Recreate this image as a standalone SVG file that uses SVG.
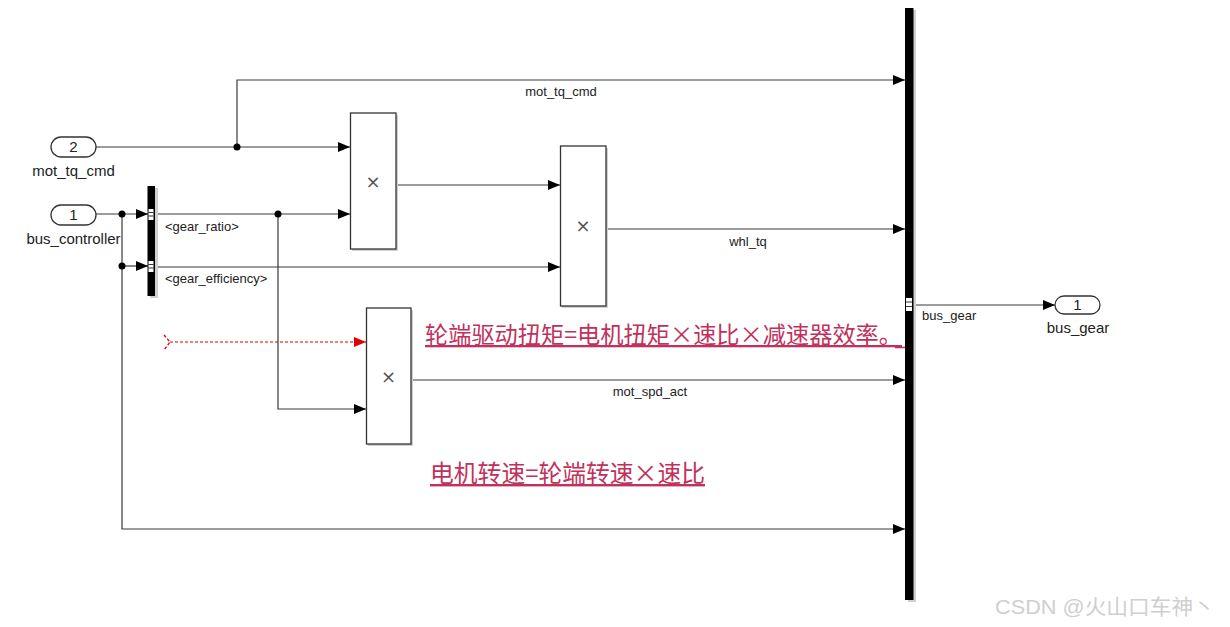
<svg xmlns="http://www.w3.org/2000/svg" width="1230" height="627" viewBox="0 0 1230 627">
<defs>
<marker id="arr" viewBox="0 0 12 10" refX="12" refY="5" markerWidth="12" markerHeight="10" markerUnits="userSpaceOnUse" orient="auto">
<path d="M0,0 L12,5 L0,10 Z" fill="#000"/>
</marker>
<marker id="arrRed" viewBox="0 0 12 10" refX="12" refY="5" markerWidth="12" markerHeight="10" markerUnits="userSpaceOnUse" orient="auto">
<path d="M0,0 L12,5 L0,10 Z" fill="#e00000"/>
</marker>
</defs>
<style>
.w{fill:none;stroke:#3a3a3a;stroke-width:1.2}
.blk{fill:#fff;stroke:#333;stroke-width:1.3}
.sh{fill:#d0d0d0}
.lbl{font-family:"Liberation Sans",Arial,sans-serif;font-size:13px;fill:#222}
.plbl{font-family:"Liberation Sans",Arial,sans-serif;font-size:15px;fill:#222;text-anchor:middle}
.num{font-family:"Liberation Sans",Arial,sans-serif;font-size:15px;fill:#222;text-anchor:middle}
.mul{font-family:"DejaVu Sans",sans-serif;font-size:18px;fill:#555;text-anchor:middle}
.note{font-family:"Noto Sans CJK SC","Noto Sans",sans-serif;fill:#c0315c;text-decoration:underline}
.dot{fill:#000}
</style>
<rect width="1230" height="627" fill="#fff"/>

<g id="connectors">
<polyline class="w" points="96,147 350,147" marker-end="url(#arr)"/>
<polyline class="w" points="237,147 237,80 905,80" marker-end="url(#arr)"/>
<polyline class="w" points="96,214 148,214" marker-end="url(#arr)"/>
<polyline class="w" points="122,214 122,529 905,529" marker-end="url(#arr)"/>
<polyline class="w" points="122,266 148,266" marker-end="url(#arr)"/>
<polyline class="w" points="155,214 350,214" marker-end="url(#arr)"/>
<polyline class="w" points="278,214 278,409 366,409" marker-end="url(#arr)"/>
<polyline class="w" points="155,267 560,267" marker-end="url(#arr)"/>
<polyline class="w" points="396,185 560,185" marker-end="url(#arr)"/>
<polyline class="w" points="606,229 905,229" marker-end="url(#arr)"/>
<polyline class="w" points="411,380 905,380" marker-end="url(#arr)"/>
<polyline class="w" points="913,305 1055,305" marker-end="url(#arr)"/>
<polyline fill="none" stroke="#e00000" stroke-width="1" stroke-dasharray="3,2" points="170,342 366,342" marker-end="url(#arrRed)"/>
<polyline fill="none" stroke="#e00000" stroke-width="1.3" stroke-dasharray="3,2" points="164,335 170,342 164,350"/>
<circle class="dot" cx="237" cy="147" r="3.5"/>
<circle class="dot" cx="122" cy="214" r="3.5"/>
<circle class="dot" cx="122" cy="266" r="3.5"/>
<circle class="dot" cx="278" cy="214" r="3.5"/>
<text class="lbl" x="561" y="96" text-anchor="middle">mot_tq_cmd</text>
<text class="lbl" x="165" y="231">&lt;gear_ratio&gt;</text>
<text class="lbl" x="165" y="283">&lt;gear_efficiency&gt;</text>
<text class="lbl" x="748" y="246" text-anchor="middle">whl_tq</text>
<text class="lbl" x="650" y="396" text-anchor="middle">mot_spd_act</text>
<text class="lbl" x="922" y="320">bus_gear</text>
</g>

<g id="in2">
<rect x="51" y="137" width="45" height="20" rx="10" fill="#fff" stroke="#333" stroke-width="1.3"/>
<text class="num" x="73.5" y="152">2</text>
<text class="plbl" x="73.5" y="176">mot_tq_cmd</text>
</g>

<g id="in1">
<rect x="51" y="205" width="45" height="20" rx="10" fill="#fff" stroke="#333" stroke-width="1.3"/>
<text class="num" x="73.5" y="220">1</text>
<text class="plbl" x="73.5" y="244">bus_controller</text>
</g>

<g id="bus_selector">
<rect class="sh" x="150" y="188" width="8" height="110"/>
<rect x="147.5" y="186" width="7.5" height="110" fill="#000"/>
<rect x="148.5" y="209" width="5" height="11" fill="#fff"/>
<path d="M148.5,212.5 H153.5 M148.5,216 H153.5" stroke="#000" stroke-width="0.8"/>
<rect x="148.5" y="261" width="5" height="11" fill="#fff"/>
<path d="M148.5,264.5 H153.5 M148.5,268 H153.5" stroke="#000" stroke-width="0.8"/>
</g>

<g id="product1">
<rect class="sh" x="352" y="115" width="46" height="136"/>
<rect class="blk" x="350.5" y="113" width="45.5" height="136"/>
<text class="mul" x="373" y="188">×</text>
</g>

<g id="product2">
<rect class="sh" x="562" y="148" width="46" height="160"/>
<rect class="blk" x="560.5" y="146" width="45.5" height="160"/>
<text class="mul" x="583" y="232">×</text>
</g>

<g id="product3">
<rect class="sh" x="368" y="310" width="45" height="136"/>
<rect class="blk" x="366.5" y="308" width="44.5" height="136"/>
<text class="mul" x="388.5" y="383">×</text>
</g>

<g id="bus_creator">
<rect class="sh" x="908" y="10" width="8" height="592"/>
<rect x="905" y="8" width="8.5" height="592" fill="#000"/>
<rect x="906" y="298" width="6" height="13" fill="#fff"/>
<path d="M906,302 H912 M906,306.5 H912" stroke="#000" stroke-width="0.8"/>
</g>

<g id="out1">
<rect x="1055" y="296" width="45" height="18" rx="9" fill="#fff" stroke="#333" stroke-width="1.3"/>
<text class="num" x="1077.5" y="310">1</text>
<text class="plbl" x="1078" y="333">bus_gear</text>
</g>

<g id="notes">
<text class="note" x="425" y="343" font-size="23" textLength="477" lengthAdjust="spacingAndGlyphs">轮端驱动扭矩=电机扭矩×速比×减速器效率。</text>
<line x1="895" y1="347.5" x2="905" y2="347.5" stroke="#c0315c" stroke-width="1.5"/>
<text class="note" x="430" y="482" font-size="24" textLength="275" lengthAdjust="spacingAndGlyphs">电机转速=轮端转速×速比</text>
</g>

<text x="995" y="614" textLength="220" lengthAdjust="spacingAndGlyphs" font-family="'Liberation Sans','Noto Sans CJK SC',sans-serif" font-size="21" fill="#cfcfcf">CSDN @火山口车神丶</text>
</svg>
